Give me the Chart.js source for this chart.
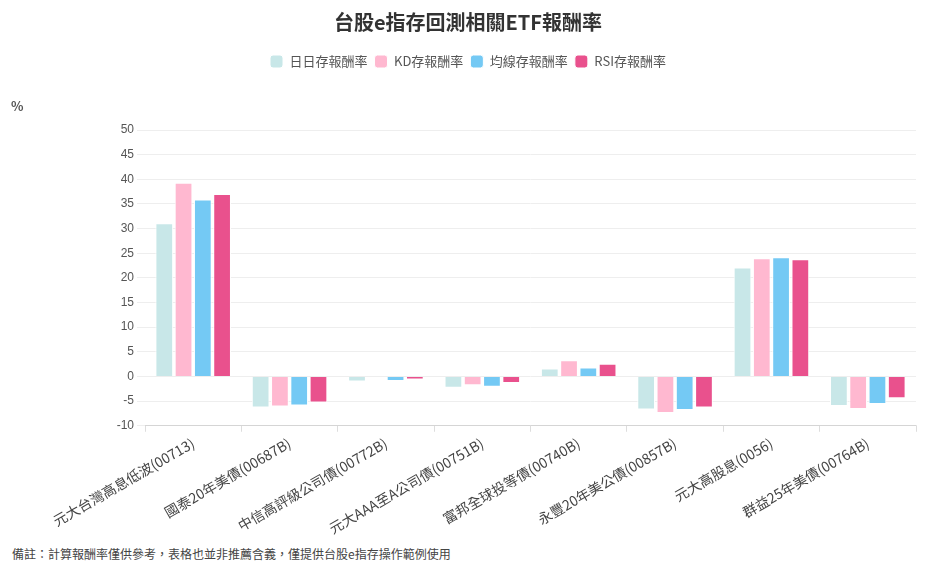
<!DOCTYPE html>
<html lang="zh-Hant">
<head>
<meta charset="UTF-8">
<script src="https://cdn.jsdelivr.net/npm/chart.js"></script>
<style>
  body { margin: 0; background: #fff; font-family: 'Noto Sans CJK TC', 'Noto Sans', sans-serif; }
  .wrap { position: relative; width: 936px; height: 575px; }
  #c { position: absolute; left: 0; top: 0; }
  .unit { position: absolute; left: 11px; top: 96px; font-size: 13px; font-weight: bold; color: #555; }
  .note { position: absolute; left: 12px; top: 545px; font-size: 12px; color: #444; }
</style>
</head>
<body>
<div class="wrap">
  <canvas id="c" width="936" height="540"></canvas>
  <div class="unit">%</div>
  <div class="note">備註：計算報酬率僅供參考，表格也並非推薦含義，僅提供台股e指存操作範例使用</div>
</div>
<script>
const categories = ['元大台灣高息低波(00713)', '國泰20年美債(00687B)', '中信高評級公司債(00772B)', '元大AAA至A公司債(00751B)',
  '富邦全球投等債(00740B)', '永豐20年美公債(00857B)', '元大高股息(0056)', '群益25年美債(00764B)'];
const seriesNames = ['日日存報酬率', 'KD存報酬率', '均線存報酬率', 'RSI存報酬率'];
const dailyValues = [31.1, -6.3, -1.0, -2.3, 1.6, -6.7, 22.1, -6.0];
const kdValues = [39.3, -6.1, -0.1, -1.8, 3.3, -7.4, 24.0, -6.6];
const maValues = [35.9, -5.9, -0.9, -2.1, 1.8, -6.8, 24.2, -5.6];
const rsiValues = [37.0, -5.3, -0.6, -1.3, 2.6, -6.3, 23.8, -4.4];
const colors = ['#c8e7e8', '#ffb8d0', '#74c9f4', '#e9518d'];

const seriesValues = [dailyValues, kdValues, maValues, rsiValues];
new Chart(document.getElementById('c'), {
  type: 'bar',
  data: {
    labels: categories,
    datasets: seriesNames.map((n, i) => ({
      label: n,
      data: seriesValues[i],
      backgroundColor: colors[i],
      borderColor: '#fff',
      borderWidth: 1,
      categoryPercentage: 0.8,
      barPercentage: 0.92
    }))
  },
  options: {
    responsive: false,
    animation: false,
    layout: { padding: { left: 20, right: 20, top: 0, bottom: 0 } },
    plugins: {
      title: { display: true, text: '台股e指存回測相關ETF報酬率', color: '#333',
        font: { size: 20, weight: 'bold', family: 'Noto Sans CJK TC' }, padding: { top: 10, bottom: 14 } },
      legend: { labels: { boxWidth: 13, boxHeight: 13, color: '#555', padding: 7,
        useBorderRadius: true, borderRadius: 3,
        font: { size: 13, family: 'Noto Sans CJK TC' } }, },
      tooltip: { enabled: false }
    },
    scales: {
      x: {
        grid: { color: '#ddd', offset: true, drawOnChartArea: false, tickLength: 6 },
        ticks: { color: '#444', maxRotation: 30, minRotation: 30, font: { size: 14, family: 'Noto Sans CJK TC' } }
      },
      y: {
        min: -10, max: 50,
        afterFit: s => { s.width = 125; },
        grid: { color: '#eee' },
        border: { display: false },
        ticks: { stepSize: 5, color: '#555', font: { size: 12 } }
      }
    }
  },
  plugins: [{
    id: 'legendGap',
    beforeInit(chart) {
      const fit = chart.legend.fit;
      chart.legend.fit = function () { fit.bind(chart.legend)(); this.height += 52; };
    }
  }]
});
</script>
</body>
</html>
